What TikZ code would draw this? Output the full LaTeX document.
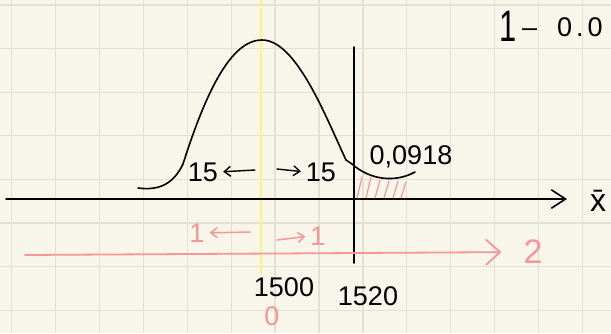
\documentclass[tikz,border=0pt]{standalone}
\usepackage{fontspec}
\setmainfont{Liberation Sans}
\usepackage{xcolor}
\usetikzlibrary{arrows.meta,positioning}
\definecolor{paper}{RGB}{248,246,234}
\definecolor{gridline}{RGB}{226,225,212}
\definecolor{pinkpen}{RGB}{246,150,150}
\definecolor{hilite}{RGB}{250,245,125}

\begin{document}
\begin{tikzpicture}[
  x=1pt, y=-1pt,
  ink/.style={draw=black, line width=1.6pt, line cap=round, line join=round},
  redink/.style={draw=pinkpen, line width=1.8pt, line cap=round, line join=round},
  hand/.style={inner sep=0pt, font=\fontsize{27}{29}\selectfont},
  redhand/.style={hand, text=pinkpen},
  open/.style={-{Straight Barb[length=5mm, width=6.5mm]}},
  small/.style={-{Straight Barb[length=2.2mm, width=3.5mm]}, shorten >=5pt}
]
\fill[paper] (0,0) rectangle (611,333);
\useasboundingbox (0,0) rectangle (611,333);
\foreach \gx in {0,...,13}
  \draw[gridline, line width=1.3pt] ({11.7+43.9*\gx},0) -- ++(0,333);
\foreach \gy in {0,...,7}
  \draw[gridline, line width=1.3pt] (0,{5+43.6*\gy}) -- ++(611,0);

\coordinate (axl) at (6,199);
\coordinate (axr) at (567,199);
\coordinate (ytop) at (261,0);
\coordinate (ybot) at (261,274);
\coordinate (vtop) at (354,47);
\coordinate (vbot) at (354,263);
\coordinate (redl) at (25,255);

\draw[hilite, line width=2pt] (ytop) -- (ybot);
\draw[ink, open] (axl) -- (axr);
\draw[ink] (vtop) -- (vbot);
\node[hand, font=\fontsize{32}{34}\selectfont] (xbar) at (598,201) {\=x};

\draw[ink] (138,188) .. controls (160,191) and (174,183) .. (183,164)
  .. controls (205,95) and (230,40) .. (262,40)
  .. controls (296,40) and (325,115) .. (346,160)
  -- (352,164) .. controls (370,180) and (395,183) .. (415,172);

\foreach \hx/\hy in {357/177,366/177,375/180,384/181,393/181,401/182}
  \draw[redink, line width=1.2pt] (\hx,198) -- (\hx+5,\hy);

\node[hand] (lft15) at (203,172) {15};
\node[hand] (rgt15) at (321,172) {15};
\coordinate (lftarr) at (255,170);
\coordinate (rgtarr) at (277,169);
\draw[ink, line width=1.4pt, small] (lftarr) -- (lft15.east);
\draw[ink, line width=1.4pt, small] (rgtarr) -- (rgt15.west);
\node[hand] (prob) at (411,157) {0,0918};

\node[redhand] (lft1) at (197,233) {1};
\node[redhand] (rgt1) at (318,236) {1};
\coordinate (lft1arr) at (250,232);
\coordinate (rgt1arr) at (277,240);
\draw[redink, line width=1.5pt, small] (lft1arr) -- (lft1.east);
\draw[redink, line width=1.5pt, small] (rgt1arr) -- (rgt1.west);
\node[redhand, font=\fontsize{34}{36}\selectfont] (two) at (533,252) {2};
\draw[redink, -{Straight Barb[length=5mm, width=9mm]}, shorten >=22pt] (redl) -- (two.west);

\node[hand] (m1500) at (284,287) {1500};
\node[hand] (m1520) at (368,296) {1520};
\node[redhand] (zero) at (272,316) {0};

\node[hand, font=\fontsize{44}{46}\selectfont\addfontfeature{FakeStretch=0.7}] (one) at (508,26) {1};
\node[hand, anchor=west] (rest) at (522,27) {–\kern 20pt 0\kern4pt.\kern4pt0};
\end{tikzpicture}
\end{document}
